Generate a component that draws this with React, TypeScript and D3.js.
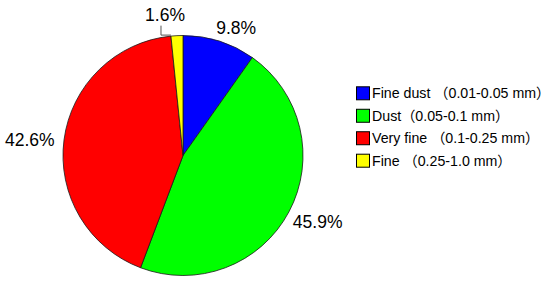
import React from "react";
import * as d3 from "d3";

const categories = [
  "Fine dust （0.01-0.05 mm）",
  "Dust（0.05-0.1 mm）",
  "Very fine （0.1-0.25 mm）",
  "Fine （0.25-1.0 mm）"
];
const shares = [9.8, 45.9, 42.6, 1.6];
const colors = ["#0000ff", "#00ff00", "#ff0000", "#ffff00"];

// label placement tweaks (degrees shift from slice middle, radius in px)
const labelShift = [5, -1.9, -1.6, -4.4];
const labelRadius = [138, 150, 154, 142];

const width = 550;
const height = 285;
const cx = 183;
const cy = 155.5;
const radius = 120;
const font = "'Liberation Sans', Arial, 'Noto Sans CJK SC', sans-serif";

const polar = (angle: number, r: number): [number, number] => [
  Math.sin(angle) * r,
  -Math.cos(angle) * r
];

export default function App() {
  const pie = d3
    .pie<number>()
    .sort(null)
    .value(d => d);
  const arcs = pie(shares);
  const arc = d3
    .arc<d3.PieArcDatum<number>>()
    .innerRadius(0)
    .outerRadius(radius);

  const legendY = d3
    .scalePoint<string>()
    .domain(categories)
    .range([93.3, 160.7]);

  return (
    <svg
      width={width}
      height={height}
      style={{ position: "absolute", left: 0, top: 0 }}
      fontFamily={font}
    >
      <rect width={width} height={height} fill="#fff" />
      <g transform={`translate(${cx},${cy})`}>
        {arcs.map((a, i) => (
          <path
            key={i}
            d={arc(a) || ""}
            fill={colors[i]}
            stroke="#1a1a1a"
            strokeWidth={0.8}
          />
        ))}
        {arcs.map((a, i) => {
          const mid = (a.startAngle + a.endAngle) / 2 + (labelShift[i] * Math.PI) / 180;
          const [x, y] = polar(mid, labelRadius[i]);
          return (
            <text
              key={i}
              x={x}
              y={y}
              dy="0.35em"
              textAnchor="middle"
              fontSize={17.5}
              fill="#000"
            >
              {shares[i].toFixed(1)}%
            </text>
          );
        })}
        {(() => {
          const a = arcs[3];
          const mid = (a.startAngle + a.endAngle) / 2 + (labelShift[3] * Math.PI) / 180;
          const [lx, ly] = polar(mid, labelRadius[3]);
          const [ex, ey] = polar(a.startAngle, radius);
          const vx = lx - 4;
          return (
            <polyline
              points={`${vx},${ly + 11} ${vx},${ey - 1} ${ex},${ey - 1}`}
              fill="none"
              stroke="#555"
              strokeWidth={1}
            />
          );
        })()}
      </g>
      <g>
        {categories.map((c, i) => {
          const y = legendY(c) || 0;
          return (
            <g key={c}>
              <rect
                x={356.5}
                y={y - 6.5}
                width={13}
                height={13}
                fill={colors[i]}
                stroke="#000"
                strokeWidth={1}
              />
              <text x={372} y={y} dy="0.36em" fontSize={14.2} fill="#000">
                {c}
              </text>
            </g>
          );
        })}
      </g>
    </svg>
  );
}
